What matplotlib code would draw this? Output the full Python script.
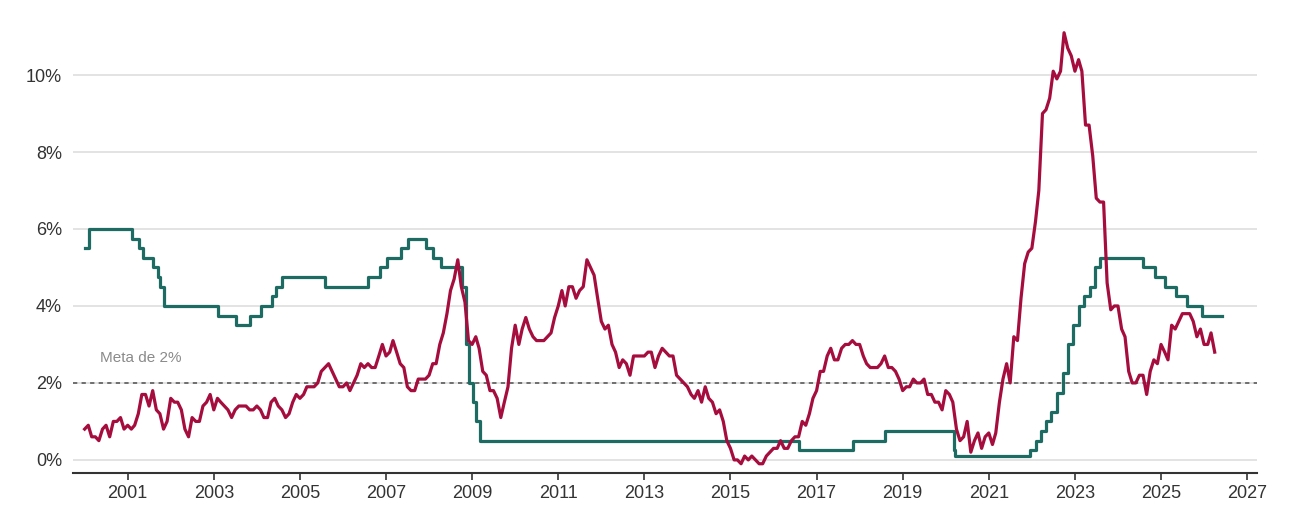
import numpy as np
import pandas as pd
import matplotlib
matplotlib.use("Agg")
import matplotlib.pyplot as plt

# ----------------------------- data ------------------------------------------
# CPI inflation, monthly, Jan 2000 .. Apr 2026 (% y/y)
CPI_START = "2000-01"
cpi = [
    0.8, 0.9, 0.6, 0.6, 0.5, 0.8, 0.9, 0.6, 1.0, 1.0, 1.1, 0.8,   # 2000
    0.9, 0.8, 0.9, 1.2, 1.7, 1.7, 1.4, 1.8, 1.3, 1.2, 0.8, 1.0,   # 2001
    1.6, 1.5, 1.5, 1.3, 0.8, 0.6, 1.1, 1.0, 1.0, 1.4, 1.5, 1.7,   # 2002
    1.3, 1.6, 1.5, 1.4, 1.3, 1.1, 1.3, 1.4, 1.4, 1.4, 1.3, 1.3,   # 2003
    1.4, 1.3, 1.1, 1.1, 1.5, 1.6, 1.4, 1.3, 1.1, 1.2, 1.5, 1.7,   # 2004
    1.6, 1.7, 1.9, 1.9, 1.9, 2.0, 2.3, 2.4, 2.5, 2.3, 2.1, 1.9,   # 2005
    1.9, 2.0, 1.8, 2.0, 2.2, 2.5, 2.4, 2.5, 2.4, 2.4, 2.7, 3.0,   # 2006
    2.7, 2.8, 3.1, 2.8, 2.5, 2.4, 1.9, 1.8, 1.8, 2.1, 2.1, 2.1,   # 2007
    2.2, 2.5, 2.5, 3.0, 3.3, 3.8, 4.4, 4.7, 5.2, 4.5, 4.1, 3.1,   # 2008
    3.0, 3.2, 2.9, 2.3, 2.2, 1.8, 1.8, 1.6, 1.1, 1.5, 1.9, 2.9,   # 2009
    3.5, 3.0, 3.4, 3.7, 3.4, 3.2, 3.1, 3.1, 3.1, 3.2, 3.3, 3.7,   # 2010
    4.0, 4.4, 4.0, 4.5, 4.5, 4.2, 4.4, 4.5, 5.2, 5.0, 4.8, 4.2,   # 2011
    3.6, 3.4, 3.5, 3.0, 2.8, 2.4, 2.6, 2.5, 2.2, 2.7, 2.7, 2.7,   # 2012
    2.7, 2.8, 2.8, 2.4, 2.7, 2.9, 2.8, 2.7, 2.7, 2.2, 2.1, 2.0,   # 2013
    1.9, 1.7, 1.6, 1.8, 1.5, 1.9, 1.6, 1.5, 1.2, 1.3, 1.0, 0.5,   # 2014
    0.3, 0.0, 0.0, -0.1, 0.1, 0.0, 0.1, 0.0, -0.1, -0.1, 0.1, 0.2,  # 2015
    0.3, 0.3, 0.5, 0.3, 0.3, 0.5, 0.6, 0.6, 1.0, 0.9, 1.2, 1.6,   # 2016
    1.8, 2.3, 2.3, 2.7, 2.9, 2.6, 2.6, 2.9, 3.0, 3.0, 3.1, 3.0,   # 2017
    3.0, 2.7, 2.5, 2.4, 2.4, 2.4, 2.5, 2.7, 2.4, 2.4, 2.3, 2.1,   # 2018
    1.8, 1.9, 1.9, 2.1, 2.0, 2.0, 2.1, 1.7, 1.7, 1.5, 1.5, 1.3,   # 2019
    1.8, 1.7, 1.5, 0.8, 0.5, 0.6, 1.0, 0.2, 0.5, 0.7, 0.3, 0.6,   # 2020
    0.7, 0.4, 0.7, 1.5, 2.1, 2.5, 2.0, 3.2, 3.1, 4.2, 5.1, 5.4,   # 2021
    5.5, 6.2, 7.0, 9.0, 9.1, 9.4, 10.1, 9.9, 10.1, 11.1, 10.7, 10.5,  # 2022
    10.1, 10.4, 10.1, 8.7, 8.7, 7.9, 6.8, 6.7, 6.7, 4.6, 3.9, 4.0,  # 2023
    4.0, 3.4, 3.2, 2.3, 2.0, 2.0, 2.2, 2.2, 1.7, 2.3, 2.6, 2.5,   # 2024
    3.0, 2.8, 2.6, 3.5, 3.4, 3.6, 3.8, 3.8, 3.8, 3.6, 3.2, 3.4,   # 2025
    3.0, 3.0, 3.3, 2.8,                                           # 2026
]

# policy rate: change dates and new level (%)
rate_dates = [
    "2000-01-01", "2000-02-10", "2001-02-08", "2001-04-05", "2001-05-10",
    "2001-08-02", "2001-09-18", "2001-10-04", "2001-11-08", "2003-02-06",
    "2003-07-10", "2003-11-06", "2004-02-05", "2004-05-06", "2004-06-10",
    "2004-08-05", "2005-08-04", "2006-08-03", "2006-11-09", "2007-01-11",
    "2007-05-10", "2007-07-05", "2007-12-06", "2008-02-07", "2008-04-10",
    "2008-10-08", "2008-11-06", "2008-12-04", "2009-01-08", "2009-02-05",
    "2009-03-05", "2016-08-04", "2017-11-02", "2018-08-02", "2020-03-11",
    "2020-03-19", "2021-12-16", "2022-02-03", "2022-03-17", "2022-05-05",
    "2022-06-16", "2022-08-04", "2022-09-22", "2022-11-03", "2022-12-15",
    "2023-02-02", "2023-03-23", "2023-05-11", "2023-06-22", "2023-08-03",
    "2024-08-01", "2024-11-07", "2025-02-06", "2025-05-08", "2025-08-07",
    "2025-12-18", "2026-06-03",
]
rate_values = [
    5.50, 6.00, 5.75, 5.50, 5.25,
    5.00, 4.75, 4.50, 4.00, 3.75,
    3.50, 3.75, 4.00, 4.25, 4.50,
    4.75, 4.50, 4.75, 5.00, 5.25,
    5.50, 5.75, 5.50, 5.25, 5.00,
    4.50, 3.00, 2.00, 1.50, 1.00,
    0.50, 0.25, 0.50, 0.75, 0.25,
    0.10, 0.25, 0.50, 0.75, 1.00,
    1.25, 1.75, 2.25, 3.00, 3.50,
    4.00, 4.25, 4.50, 5.00, 5.25,
    5.00, 4.75, 4.50, 4.25, 4.00,
    3.75, 3.75,
]

TARGET = 2.0
TARGET_LABEL = "Meta de 2%"
YTICKS = [0, 2, 4, 6, 8, 10]
XTICKS = list(range(2001, 2028, 2))

# ----------------------------- style -----------------------------------------
RED   = "#A50D3E"
GREEN = "#1D6B63"
GRID  = "#E1E1E1"
TEXT  = "#333333"
plt.rcParams["font.family"] = ["Liberation Sans", "DejaVu Sans"]


def to_year(dates):
    d = pd.to_datetime(pd.Series(dates))
    start = pd.to_datetime(d.dt.year.astype(str) + "-01-01")
    days = np.where(d.dt.is_leap_year, 366, 365)
    return (d.dt.year + (d - start).dt.days / days).to_numpy()


cpi_x = to_year(pd.date_range(CPI_START, periods=len(cpi), freq="MS"))
rate_x = to_year(rate_dates)

# ----------------------------- plot ------------------------------------------
fig = plt.figure(figsize=(12.99, 5.14), dpi=100)
ax = fig.add_axes([0.0562, 0.0798, 0.9115, 0.879])

for y in YTICKS:
    ax.axhline(y, color=GRID, linewidth=1.3, zorder=0)
ax.axhline(TARGET, color="#6E6E6E", linewidth=1.4, linestyle=(0, (2.2, 2.2)), zorder=1)
ax.text(2000.36, 2.55, TARGET_LABEL, color="#8A8A8A", fontsize=11, va="baseline")

ax.step(rate_x, rate_values, where="post", color=GREEN, linewidth=2.3, zorder=2)
ax.plot(cpi_x, cpi, color=RED, linewidth=2.3, zorder=3)

ax.set_xlim(1999.73, 2027.23)
ax.set_ylim(-0.34, 11.4)
ax.set_yticks(YTICKS)
ax.set_yticklabels([f"{v}%" for v in YTICKS])
ax.set_xticks(XTICKS)
ax.set_xticklabels([str(v) for v in XTICKS])

for side in ("top", "right", "left"):
    ax.spines[side].set_visible(False)
ax.spines["bottom"].set_color(TEXT)
ax.spines["bottom"].set_linewidth(1.5)
ax.tick_params(axis="y", length=0, pad=8, labelsize=13, labelcolor=TEXT)
ax.tick_params(axis="x", length=5, width=1.2, color=TEXT, pad=4,
               labelsize=13, labelcolor=TEXT)

fig.savefig("out.png", dpi=100)
